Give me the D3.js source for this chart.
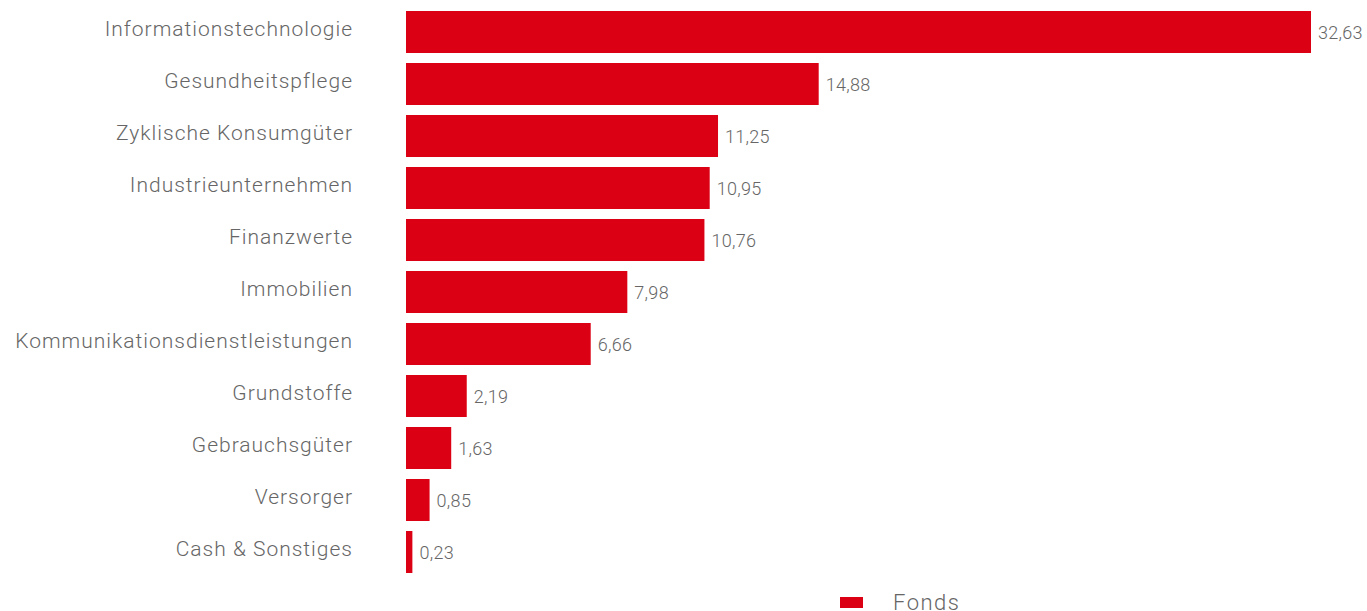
<!DOCTYPE html>
<html>
<head>
<meta charset="utf-8">
<script src="https://cdn.jsdelivr.net/npm/d3@7"></script>
<style>
  html, body { margin: 0; padding: 0; background: #fff; overflow: hidden; }
  svg { display: block; font-family: Roboto, "Open Sans", sans-serif; }
  .cat { font-size: 21px; font-weight: 300; fill: #666; letter-spacing: 1px; }
  .val { font-size: 18px; font-weight: 300; fill: #666; letter-spacing: 0.3px; }
  .legend { font-size: 22px; font-weight: 300; fill: #666; letter-spacing: 1.5px; }
</style>
</head>
<body>
<svg id="chart" width="1367" height="611"></svg>
<script>
// Sektorgewichtung
var categories = [
  'Informationstechnologie', 'Gesundheitspflege', 'Zyklische Konsumgüter',
  'Industrieunternehmen', 'Finanzwerte', 'Immobilien',
  'Kommunikationsdienstleistungen', 'Grundstoffe', 'Gebrauchsgüter',
  'Versorger', 'Cash & Sonstiges'
];
var values = [32.63, 14.88, 11.25, 10.95, 10.76, 7.98, 6.66, 2.19, 1.63, 0.85, 0.23];
var seriesName = 'Fonds';

var red = '#dc0014';
var svg = d3.select('#chart');

var data = categories.map(function(c, i) {
  return { cat: c, val: values[i] };
});

var x = d3.scaleLinear()
    .domain([0, d3.max(values)])
    .range([406, 1311]);

var y = d3.scaleBand()
    .domain(categories)
    .range([6, 578])
    .paddingInner(10 / 52)
    .paddingOuter(5 / 52);

var fmt = function(v) { return d3.format('.2f')(v).replace('.', ','); };

// Balken
svg.append('g')
  .selectAll('rect')
  .data(data)
  .enter()
  .append('rect')
  .attr('x', x(0))
  .attr('y', function(d) { return y(d.cat); })
  .attr('width', function(d) { return x(d.val) - x(0); })
  .attr('height', y.bandwidth())
  .attr('fill', red);

// Kategorien
svg.append('g')
  .selectAll('text')
  .data(data)
  .enter()
  .append('text')
  .attr('class', 'cat')
  .attr('x', 353)
  .attr('y', function(d) { return y(d.cat) + y.bandwidth() / 2 + 4; })
  .attr('text-anchor', 'end')
  .text(function(d) { return d.cat; });

// Werte
svg.append('g')
  .selectAll('text')
  .data(data)
  .enter()
  .append('text')
  .attr('class', 'val')
  .attr('x', function(d) { return x(d.val) + 7; })
  .attr('y', function(d) { return y(d.cat) + y.bandwidth() / 2 + 7; })
  .text(function(d) { return fmt(d.val); });

// Legende
var lg = svg.append('g').attr('transform', 'translate(840,597)');
lg.append('rect')
  .attr('width', 23)
  .attr('height', 11)
  .attr('fill', red);
lg.append('text')
  .attr('class', 'legend')
  .attr('x', 53)
  .attr('y', 13)
  .text(seriesName);
</script>
</body>
</html>
